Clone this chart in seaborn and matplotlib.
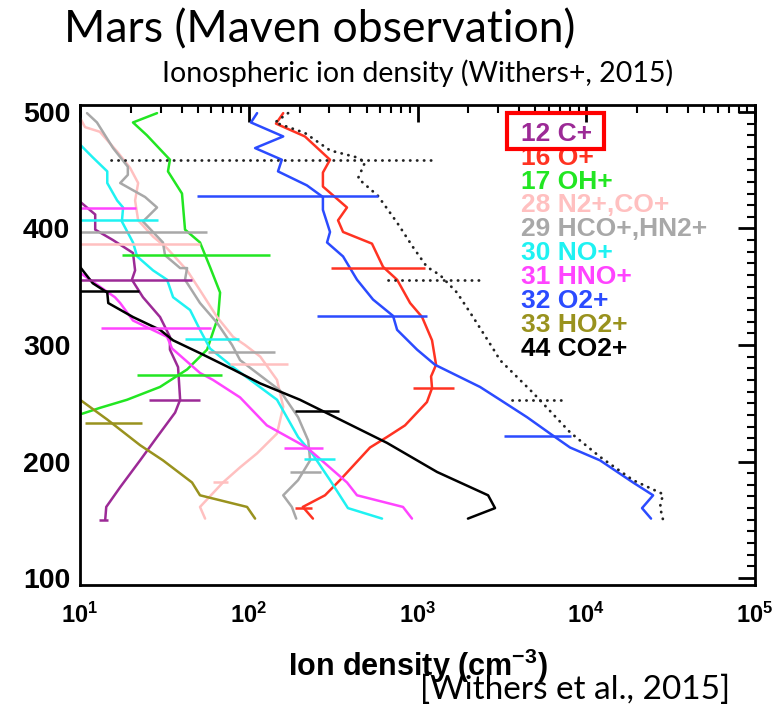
import numpy as np
import pandas as pd
import matplotlib
matplotlib.use('Agg')
import matplotlib.pyplot as plt
import seaborn as sns
from matplotlib.patches import Rectangle
from matplotlib.ticker import FixedLocator, LogLocator, NullFormatter

sns.set_theme(style='white')
plt.rcParams['font.family'] = ['Liberation Sans', 'DejaVu Sans']
plt.rcParams['mathtext.fontset'] = 'custom'
plt.rcParams['mathtext.bf'] = 'Liberation Sans:bold'
plt.rcParams['mathtext.rm'] = 'Liberation Sans:bold'
plt.rcParams['mathtext.default'] = 'bf'
plt.rcParams['text.color'] = 'black'
plt.rcParams['axes.labelcolor'] = 'black'
plt.rcParams['xtick.color'] = 'black'
plt.rcParams['ytick.color'] = 'black'

# ---------------- data ----------------
species = ['12 C+', '16 O+', '17 OH+', '28 N2+,CO+', '29 HCO+,HN2+',
           '30 NO+', '31 HNO+', '32 O2+', '33 HO2+', '44 CO2+']
colors = ['#9C2A96', '#FF3322', '#22E622', '#FFC0C0', '#A8A8A8',
          '#1FF2F2', '#FF44FF', '#2B4BFF', '#99921E', '#000000']

alt_cp = [423, 412, 399, 390, 379, 364, 356, 341, 324, 307, 296, 281, 253, 242, 221, 201, 178, 161, 150]
den_cp = [10, 12.3, 12.3, 15.7, 20.6, 21.2, 20.3, 23.6, 29.8, 34.1, 34.1, 38.1, 39.2, 36.6, 28.6, 22.7, 17.3, 14.3, 14.1]

alt_op = [499, 490, 479, 459, 448, 436, 418, 407, 397, 387, 367, 356, 336, 324, 304, 283, 273, 263, 251, 231, 221, 212, 184, 171, 161, 151]
den_op = [160, 145, 215, 303, 275, 275, 382, 338, 362, 537, 625, 757, 904, 1064, 1219, 1288, 1203, 1219, 1137, 843, 659, 523, 347, 283, 209, 240]

alt_ohp = [499, 491, 480, 459, 449, 430, 399, 388, 367, 345, 324, 296, 290, 279, 264, 253, 246, 241]
den_ohp = [28.6, 20.6, 24.9, 34.1, 33.2, 40.2, 41.9, 51.4, 58.9, 67.6, 65.8, 56.6, 51.4, 43.1, 29.8, 19.0, 13.1, 10.3]

alt_n2p = [495, 487, 483, 466, 452, 439, 424, 407, 393, 383, 364, 347, 324, 307, 300, 290, 270, 247, 224, 207, 195, 182, 161, 151]
den_n2p = [10, 10.7, 13.1, 16.6, 19.8, 22.1, 21.2, 22.1, 27.1, 32.8, 43.1, 51.4, 64.9, 80.7, 95, 117, 147, 160, 147, 112, 88.8, 70.3, 51.4, 55.1]

alt_hcop = [499, 491, 469, 453, 446, 439, 427, 418, 406, 388, 377, 366, 366, 356, 336, 319, 300, 287, 261, 238, 218, 201, 184, 171, 161, 151]
den_hcop = [11.0, 12.6, 15.7, 19.2, 19.2, 17.3, 24.3, 28.6, 23.6, 31.0, 31.9, 39.2, 43.1, 41.9, 51.4, 64.9, 79.6, 88.8, 153, 196, 225, 231, 196, 160, 180, 191]

alt_nop = [472, 461, 449, 439, 424, 418, 406, 388, 376, 364, 356, 341, 330, 313, 297, 281, 253, 221, 207, 184, 160, 151]
den_nop = [10, 11.9, 14.5, 14.5, 16.6, 18.0, 17.7, 20.6, 21.8, 27.1, 32.8, 35.6, 44.9, 51.4, 58.9, 80.7, 147, 196, 237, 303, 387, 616]

alt_hnop = [362, 341, 336, 321, 307, 297, 276, 270, 255, 231, 212, 182, 171, 161, 151]
den_hnop = [10, 16.1, 17.3, 20.6, 32.8, 35.1, 51.4, 61.4, 88.8, 128, 221, 382, 438, 820, 927]

alt_o2p = [499, 491, 479, 469, 459, 449, 437, 427, 416, 397, 388, 376, 356, 339, 325, 313, 296, 283, 264, 253, 238, 224, 212, 201, 182, 171, 160, 151]
den_o2p = [112, 103, 160, 109, 157, 149, 221, 275, 275, 303, 291, 362, 438, 545, 716, 757, 994, 1270, 2346, 3083, 4460, 6100, 8020, 12060, 18930, 24900, 21400, 24200]

alt_ho2p = [253, 236, 214, 201, 182, 171, 161, 151]
den_ho2p = [10, 14.5, 22.7, 31.0, 46.1, 51.4, 97.7, 109]

alt_co2p = [367, 353, 345, 336, 324, 313, 304, 293, 279, 267, 253, 236, 216, 191, 171, 160, 151]
den_co2p = [10, 11.9, 14.5, 14.7, 20.6, 29.8, 35.6, 51.4, 80.7, 117, 201, 347, 659, 1306, 2620, 2880, 1990]

alt_total = [499, 491, 482, 467, 461, 457, 443, 428, 405, 384, 367, 360, 345, 324, 297, 287, 259, 225, 204, 184, 172, 161, 150]
den_total = [171, 143, 215, 303, 438, 489, 444, 583, 757, 940, 1137, 1360, 1713, 2133, 2800, 3083, 4830, 8020, 12060, 18930, 28500, 27350, 28500]

# horizontal error bars: species index, altitude, low, high
err_species = [0, 0, 0, 1, 1, 1, 2, 2, 3, 3, 3, 4, 4, 4, 5, 5, 5, 6, 6, 6, 7, 7, 7, 8, 9, 9]
err_alt = [356, 253, 150, 366, 263, 160, 377, 274, 387, 284, 182, 397, 294, 191, 407, 305, 202, 418, 315, 212, 428, 325, 222, 233, 346, 243]
err_lo = [10, 25.6, 12.9, 307, 940, 188, 17.7, 21.8, 10, 77.4, 61.4, 10, 57.4, 176, 10, 41.9, 212, 10, 13.3, 162, 49.3, 254, 3260, 10.7, 10, 188]
err_hi = [46, 51.4, 14.6, 1107, 1645, 237, 134, 69.3, 51.4, 171, 75.3, 56.6, 143, 268, 29, 87.5, 324, 21.4, 59.8, 275, 583, 1137, 8130, 23.3, 22.4, 343]

tot_err_alt = [459, 356, 253]
tot_err_lo = [15.3, 668, 3630]
tot_err_hi = [1306, 2410, 7180]

x_exponents = [1, 2, 3, 4, 5]
y_ticks = [100, 200, 300, 400, 500]

alts = [alt_cp, alt_op, alt_ohp, alt_n2p, alt_hcop, alt_nop, alt_hnop, alt_o2p, alt_ho2p, alt_co2p]
dens = [den_cp, den_op, den_ohp, den_n2p, den_hcop, den_nop, den_hnop, den_o2p, den_ho2p, den_co2p]

rows = []
for name, alt, den in zip(species, alts, dens):
    for i, (a, d) in enumerate(zip(alt, den)):
        rows.append(dict(species=name, altitude=a, density=d, order=i))
df = pd.DataFrame(rows)
df_total = pd.DataFrame(dict(altitude=alt_total, density=den_total))

# ---------------- figure ----------------
fig = plt.figure(figsize=(7.77, 7.05), dpi=100)
fig.patch.set_facecolor('white')
ax = fig.add_axes([0.1030, 0.1702, 0.8687, 0.6809])
ax.set_facecolor('white')
ax.set_xscale('log')

sns.lineplot(data=df, x='density', y='altitude', hue='species', hue_order=species,
             palette=colors, sort=False, estimator=None, lw=1.8, legend=False, ax=ax)
sns.lineplot(data=df_total, x='density', y='altitude', sort=False, estimator=None,
             color='#222222', lw=2.0, linestyle=(0, (0.1, 2.4)), dash_capstyle='round',
             legend=False, ax=ax)

for s, a, lo, hi in zip(err_species, err_alt, err_lo, err_hi):
    ax.hlines(a, lo, hi, colors=colors[s], lw=1.8)
ax.hlines(tot_err_alt, tot_err_lo, tot_err_hi, colors='#222222', lw=2.0,
          linestyles=[(0, (0.1, 2.4))], capstyle='round')

ax.set_xlim(10, 1e5)
ax.set_ylim(94, 506)

ax.set_xticks([10.0 ** e for e in x_exponents])
ax.set_xticklabels([r'$10^{%d}$' % e for e in x_exponents])
ax.xaxis.set_minor_locator(LogLocator(base=10, subs=np.arange(2, 10)))
ax.xaxis.set_minor_formatter(NullFormatter())
ax.set_yticks(y_ticks)
ax.set_yticklabels([str(t) for t in y_ticks])
ax.yaxis.set_minor_locator(FixedLocator(np.arange(100, 501, 10)))

ax.tick_params(which='major', direction='in', length=12, width=2, top=True, right=True,
               colors='black')
ax.tick_params(which='minor', direction='in', length=6, width=1.5, top=True, right=True,
               colors='black')
ax.tick_params(axis='x', which='major', labelsize=17, pad=13)
ax.tick_params(axis='y', which='major', labelsize=20.5, pad=7)
for lbl in ax.get_yticklabels():
    lbl.set_fontweight('bold')
ax.grid(False)
for sp in ax.spines.values():
    sp.set_visible(True)
    sp.set_color('black')
    sp.set_linewidth(2)

ax.set_xlabel(r'Ion density (cm$^{-3}$)', fontsize=22, fontweight='bold', labelpad=13,
              color='black')
ax.set_ylabel('')

# legend-like labels
for i, (name, c) in enumerate(zip(species, colors)):
    ax.text(0.653, 0.940 - i * 0.0498, name, color=c, fontsize=19, fontweight='bold',
            transform=ax.transAxes, va='center', ha='left')
ax.add_patch(Rectangle((0.633, 0.908), 0.143, 0.075, transform=ax.transAxes,
                       fill=False, ec='#FF0000', lw=3, zorder=5))

# titles
fig.text(0.082, 0.940, 'Mars (Maven observation)', fontsize=32, family='Lato',
         ha='left', va='baseline', color='black')
fig.text(0.538, 0.884, 'Ionospheric ion density (Withers+, 2015)', fontsize=20.5, family='Lato',
         ha='center', va='baseline', color='black')
fig.text(0.541, 0.009, '[Withers et al., 2015]', fontsize=24, family='Lato',
         ha='left', va='baseline', color='black')

fig.savefig('out.png', dpi=100)
